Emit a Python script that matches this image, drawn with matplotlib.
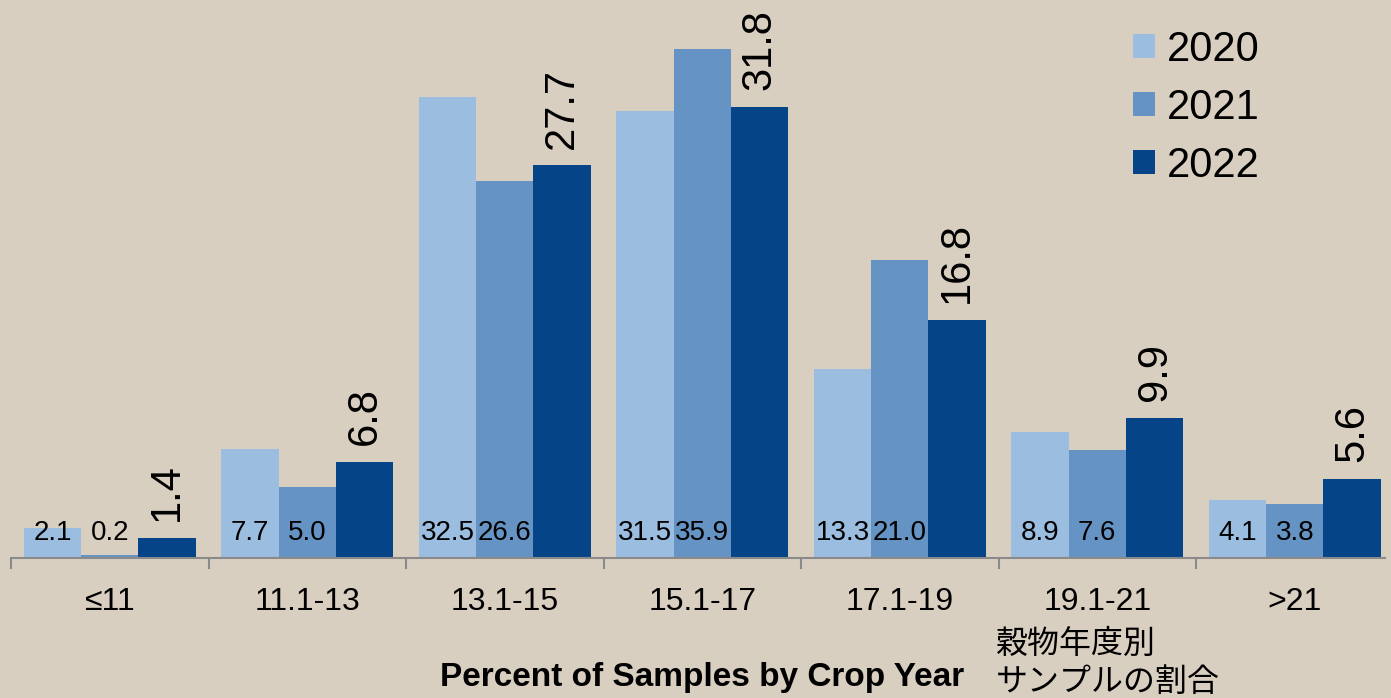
import numpy as np
import matplotlib
matplotlib.use("Agg")
import matplotlib.pyplot as plt
from matplotlib.patches import Patch

# data
categories = ["≤11", "11.1-13", "13.1-15", "15.1-17", "17.1-19", "19.1-21", ">21"]
years = ["2020", "2021", "2022"]
v2020 = [2.1, 7.7, 32.5, 31.5, 13.3, 8.9, 4.1]
v2021 = [0.2, 5.0, 26.6, 35.9, 21.0, 7.6, 3.8]
v2022 = [1.4, 6.8, 27.7, 31.8, 16.8, 9.9, 5.6]

colors = ["#9bbde0", "#6593c3", "#064488"]
bg = "#d9cfc1"

plt.rcParams["font.family"] = ["Liberation Sans", "DejaVu Sans"]

W, H = 1391, 698
fig = plt.figure(figsize=(W / 100, H / 100), dpi=100, facecolor=bg)
ax = fig.add_axes([11 / W, 140 / H, 1374 / W, 558 / H])
ax.set_facecolor(bg)

x = np.arange(len(categories))
bw = 0.29
offsets = [-0.29, 0.0, 0.29]
series = [v2020, v2021, v2022]

for i, (vals, yr) in enumerate(zip(series, years)):
    bars = ax.bar(x + offsets[i], vals, width=bw, color=colors[i], label=yr, zorder=2)
    for xi, v in zip(x, vals):
        if i < 2:
            ax.text(xi + offsets[i], 1.75, f"{v:.1f}", ha="center", va="center",
                    fontsize=20, color="black", zorder=3)
        else:
            ax.annotate(f"{v:.1f}", (xi + offsets[i], v), xytext=(0, 12),
                        textcoords="offset points", rotation=90,
                        ha="center", va="bottom", fontsize=30, color="black")

for s in ["left", "right", "top"]:
    ax.spines[s].set_visible(False)
ax.spines["bottom"].set_color("#8a8a8a")
ax.spines["bottom"].set_linewidth(1.5)
ax.set_yticks([])

ax.set_xticks(x)
ax.set_xticklabels(categories, fontsize=23)
ax.tick_params(axis="x", which="major", length=0, pad=21)
ax.set_xticks(np.arange(-0.5, 7, 1), minor=True)
ax.tick_params(axis="x", which="minor", length=8, width=1.5, color="#8a8a8a")

# limits last, set_xticks would widen them
ax.set_xlim(-0.5, -0.5 + 1374 / 197.5)
ax.set_ylim(0, 558 / 14.18)

handles = [Patch(facecolor=c, edgecolor="none") for c in colors]
fig.legend(handles, years, loc="upper left", bbox_to_anchor=(1133 / W, 1 - 30 / H),
           frameon=False, fontsize=30, handlelength=0.52, handleheight=0.52,
           handletextpad=0.3, labelspacing=0.43, borderpad=0, borderaxespad=0)

fig.text(440 / W, 1 - 686 / H, "Percent of Samples by Crop Year",
         fontweight="bold", fontsize=24, ha="left", va="baseline")
fig.text(996 / W, 1 - 628 / H, "穀物年度別\nサンプルの割合",
         family=["Noto Sans CJK JP", "DejaVu Sans"], fontsize=23,
         ha="left", va="top", linespacing=1.22)

fig.savefig("out.png", dpi=100, facecolor=bg)
